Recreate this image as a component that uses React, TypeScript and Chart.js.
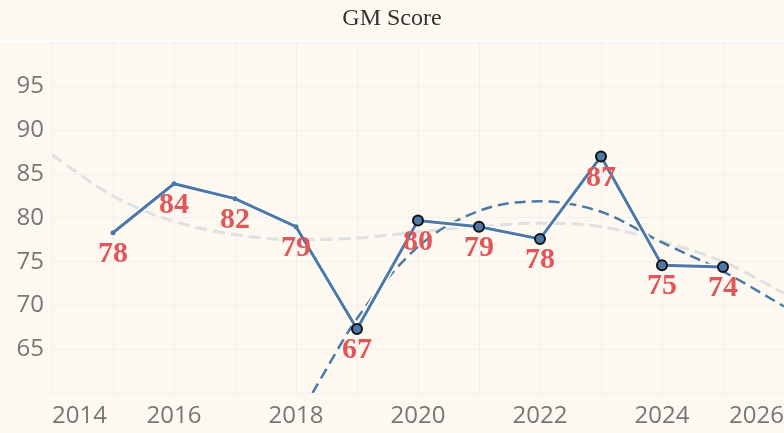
import { useEffect, useRef } from 'react'
import { Chart, registerables } from 'chart.js'

Chart.register(...registerables)

const years = [2015, 2016, 2017, 2018, 2019, 2020, 2021, 2022, 2023, 2024, 2025]
const scores = [78.3, 83.9, 82.2, 79.0, 67.3, 79.7, 79.0, 77.6, 87.0, 74.6, 74.4]

// long-run trend (light grey dashed)
const greyTrendYears = [2014, 2015, 2016, 2017, 2018, 2019, 2020, 2021, 2022, 2023, 2024, 2025, 2026]
const greyTrendValues = [87.2, 82.5, 79.6, 78.1, 77.5, 77.7, 78.4, 79.0, 79.4, 79.0, 77.3, 75.0, 71.4]

// recent trend (blue dashed)
const blueTrendYears = [2018.27, 2019, 2020, 2021, 2022, 2023, 2024, 2025, 2026]
const blueTrendValues = [60, 68.5, 76.7, 80.8, 81.9, 80.7, 77.2, 73.9, 69.9]

const yTicks = [65, 70, 75, 80, 85, 90, 95]
const xTickLabels = [2014, 2016, 2018, 2020, 2022, 2024, 2026]

const BG = '#fdf8f0'
const BLUE = '#4e79a7'
const RED = '#e15759'
const AXIS_FONT = "'Open Sans', sans-serif"
const SERIF = "'Liberation Serif', 'Times New Roman', serif"

const toPoints = (xs: number[], ys: number[]) => xs.map((x, i) => ({ x, y: ys[i] }))

const backgroundPlugin = {
  id: 'bg',
  beforeDraw(chart: Chart) {
    const { ctx, width, height } = chart
    ctx.save()
    ctx.fillStyle = BG
    ctx.fillRect(0, 0, width, height)
    ctx.fillStyle = '#ffffff'
    ctx.fillRect(0, 40, width, 2)
    ctx.restore()
  },
}

const valueLabelPlugin = {
  id: 'valueLabels',
  afterDatasetsDraw(chart: Chart) {
    const meta = chart.getDatasetMeta(0)
    const { ctx } = chart
    ctx.save()
    ctx.font = `bold 30px ${SERIF}`
    ctx.fillStyle = RED
    ctx.textAlign = 'center'
    ctx.textBaseline = 'alphabetic'
    meta.data.forEach((pt, i) => {
      ctx.fillText(String(Math.round(scores[i])), pt.x, pt.y + 29)
    })
    ctx.restore()
  },
}

export default function App() {
  const chartRef = useRef<HTMLCanvasElement>(null)

  useEffect(() => {
    document.body.style.margin = '0'
    if (!chartRef.current) return
    const ctx = chartRef.current.getContext('2d')
    if (!ctx) return

    const bigPoint = years.map((y) => y >= 2019)

    const chart = new Chart(ctx, {
      type: 'line',
      data: {
        datasets: [
          {
            label: 'GM Score',
            data: toPoints(years, scores),
            borderColor: BLUE,
            borderWidth: 3,
            backgroundColor: BLUE,
            pointRadius: bigPoint.map((b) => (b ? 5 : 2.5)),
            pointBorderWidth: bigPoint.map((b) => (b ? 2 : 0)),
            pointBorderColor: '#111111',
            pointBackgroundColor: BLUE,
            tension: 0,
            order: 0,
          },
          {
            label: 'halo',
            data: toPoints(years, scores),
            borderColor: '#ffffff',
            borderWidth: 6,
            pointRadius: 0,
            tension: 0,
            order: 1,
          },
          {
            label: 'Recent trend',
            data: toPoints(blueTrendYears, blueTrendValues),
            borderColor: BLUE,
            borderWidth: 2.5,
            borderDash: [11, 6],
            pointRadius: 0,
            cubicInterpolationMode: 'monotone',
            order: 2,
          },
          {
            label: 'Long trend',
            data: toPoints(greyTrendYears, greyTrendValues),
            borderColor: '#dde1e1',
            borderWidth: 3,
            borderDash: [12, 6],
            pointRadius: 0,
            cubicInterpolationMode: 'monotone',
            order: 3,
          },
        ],
      },
      options: {
        animation: false,
        responsive: true,
        maintainAspectRatio: false,
        layout: { padding: 0, autoPadding: false },
        plugins: {
          legend: { display: false },
          tooltip: { enabled: false },
          title: {
            display: true,
            text: 'GM Score',
            color: '#333333',
            font: { family: SERIF, size: 24, weight: 'normal', lineHeight: 1.2 },
            padding: { top: 4, bottom: 10 },
          },
        },
        scales: {
          x: {
            type: 'linear',
            min: 2014,
            max: 2026,
            grid: { color: '#efefef', drawTicks: false },
            border: { display: false },
            afterFit: (scale) => {
              scale.height = 40
              scale.paddingLeft = 0
              scale.paddingRight = 0
            },
            ticks: {
              stepSize: 1,
              autoSkip: false,
              align: 'inner',
              maxRotation: 0,
              minRotation: 0,
              padding: 0,
              color: '#777777',
              font: { family: AXIS_FONT, size: 24, lineHeight: 1.9 },
              callback: (v) => (xTickLabels.includes(Number(v)) ? String(v) : ''),
            },
          },
          y: {
            min: 60,
            max: 100,
            grid: { color: '#efefef', drawTicks: false },
            border: { display: false },
            afterFit: (scale) => {
              scale.width = 52
            },
            ticks: {
              stepSize: 5,
              padding: 8,
              color: '#777777',
              font: { family: AXIS_FONT, size: 24 },
              callback: (v) => (yTicks.includes(Number(v)) ? String(v) : ''),
            },
          },
        },
      },
      plugins: [backgroundPlugin, valueLabelPlugin],
    })

    return () => chart.destroy()
  }, [])

  return (
    <div style={{ width: 784, height: 433, position: 'relative' }}>
      <canvas ref={chartRef} />
    </div>
  )
}
